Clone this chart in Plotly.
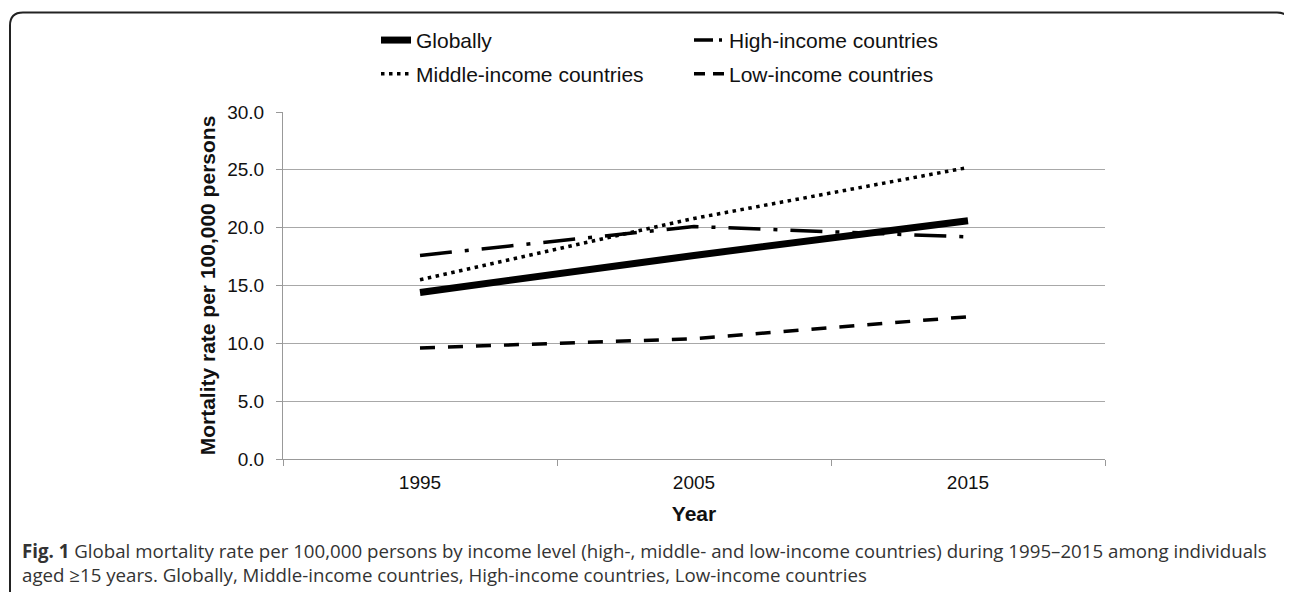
import plotly.graph_objects as go

# ---- data ----
years = ["1995", "2005", "2015"]
globally = [14.4, 17.6, 20.6]
high_income = [17.6, 20.1, 19.2]
middle_income = [15.5, 20.8, 25.2]
low_income = [9.6, 10.4, 12.3]

y_ticks = [0, 5, 10, 15, 20, 25, 30]
y_tick_labels = ["0.0", "5.0", "10.0", "15.0", "20.0", "25.0", "30.0"]

# The page body has an 8px margin, so figure coords = screen coords - 8
OFF = 8
W, H = 1292 - OFF, 592 - OFF
SL, SR, ST, SB = 283, 1105, 110, 459  # plot area in screen px
L, R, T, B = SL - OFF, SR - OFF, ST - OFF, SB - OFF


def px(sx):
    return (sx - SL) / (SR - SL)


def py(sy):
    return (SB - sy) / (SB - ST)


FONT = "Liberation Sans, Arial, sans-serif"
fig = go.Figure()

fig.add_trace(go.Scatter(x=years, y=globally, name="Globally", mode="lines",
                         line=dict(color="black", width=7), legend="legend"))
fig.add_trace(go.Scatter(x=years, y=high_income, name="High-income countries", mode="lines",
                         line=dict(color="black", width=3.5, dash="32px,13px,4px,13px"),
                         showlegend=False))
fig.add_trace(go.Scatter(x=years, y=middle_income, name="Middle-income countries", mode="lines",
                         line=dict(color="black", width=3.5, dash="3.5px,4.5px"), legend="legend2"))
fig.add_trace(go.Scatter(x=years, y=low_income, name="Low-income countries", mode="lines",
                         line=dict(color="black", width=3.5, dash="15px,13px"), showlegend=False))

# legend-only entries with patterns scaled to the short legend sample
fig.add_trace(go.Scatter(x=[None], y=[None], name="High-income countries", mode="lines",
                         line=dict(color="black", width=3.5, dash="19px,6px,3px,8px"),
                         legend="legend", hoverinfo="skip"))
fig.add_trace(go.Scatter(x=[None], y=[None], name="Low-income countries", mode="lines",
                         line=dict(color="black", width=3.5, dash="11px,8px"),
                         legend="legend2", hoverinfo="skip"))

legend_common = dict(orientation="h", xanchor="left", yanchor="middle",
                     font=dict(family=FONT, size=21, color="#111"),
                     bgcolor="rgba(0,0,0,0)", entrywidth=268, entrywidthmode="pixels",
                     itemclick=False, itemdoubleclick=False)

fig.update_layout(
    width=W, height=H,
    margin=dict(l=L, r=W - R, t=T, b=H - B),
    paper_bgcolor="white", plot_bgcolor="white",
    showlegend=True,
    legend=dict(x=px(376), y=py(38), **legend_common),
    legend2=dict(x=px(376), y=py(72), **legend_common),
    xaxis=dict(
        type="category", range=[-0.5, 2.5], tickson="boundaries",
        ticks="outside", ticklen=6, tickcolor="#999", showline=True, linecolor="#999",
        showgrid=False, zeroline=False, ticklabelstandoff=6,
        tickfont=dict(family=FONT, size=19, color="#111"),
        title=dict(text="<b>Year</b>", font=dict(family=FONT, size=21, color="#111"), standoff=14),
    ),
    yaxis=dict(
        range=[0, 30], tickvals=y_ticks, ticktext=y_tick_labels,
        ticks="outside", ticklen=6, tickcolor="#999", showline=True, linecolor="#999",
        showgrid=True, gridcolor="#a8a8a8", gridwidth=1, zeroline=False,
        ticklabelstandoff=8,
        tickfont=dict(family=FONT, size=19, color="#111"),
        title=dict(text="<b>Mortality rate per 100,000 persons</b>",
                   font=dict(family=FONT, size=21, color="#111"), standoff=5),
    ),
)

# frame around the figure (rounded top corners), in screen px
r = 13
x0, y0, x1, y1 = 10, 10, 1290, 610
path = (f"M {px(x0)},{py(y1)} L {px(x0)},{py(y0 + r)} "
        f"Q {px(x0)},{py(y0)} {px(x0 + r)},{py(y0)} "
        f"L {px(x1 - r)},{py(y0)} Q {px(x1)},{py(y0)} {px(x1)},{py(y0 + r)} "
        f"L {px(x1)},{py(y1)}")
fig.add_shape(type="path", path=path, xref="paper", yref="paper",
              line=dict(color="#222", width=2), layer="above")

CAP = "Open Sans, Noto Sans, sans-serif"
fig.add_annotation(x=px(20), y=py(551), xref="paper", yref="paper", xanchor="left", yanchor="middle",
                   showarrow=False, align="left", font=dict(family=CAP, size=18.7, color="#333"),
                   text="<b>Fig. 1</b> Global mortality rate per 100,000 persons by income level (high-, middle- and "
                        "low-income countries) during 1995–2015 among individuals")
fig.add_annotation(x=px(20), y=py(575), xref="paper", yref="paper", xanchor="left", yanchor="middle",
                   showarrow=False, align="left", font=dict(family=CAP, size=18.7, color="#333"),
                   text="aged ≥15 years. Globally, Middle-income countries, High-income countries, Low-income countries")

fig.write_html("out.html")
